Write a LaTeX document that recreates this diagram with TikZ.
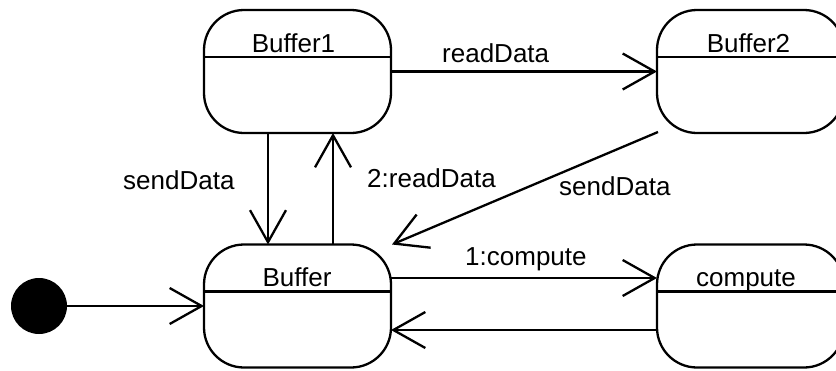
\documentclass[tikz,border=0pt]{standalone}
\usepackage{fontspec}
\setmainfont{Liberation Sans}
\usetikzlibrary{arrows.meta}
\begin{document}
\begin{tikzpicture}[x=1pt,y=-1pt,
  every node/.style={font=\fontsize{26}{30}\selectfont},
  state/.style={draw,line width=2.3pt,rounded corners=40pt,minimum width=187pt,minimum height=123pt,inner sep=0pt,outer sep=0pt},
  slabel/.style={anchor=base,inner sep=0pt},
  elabel/.style={anchor=base west,inner sep=0pt},
  trans/.style={line width=2.3pt,-{Straight Barb[length=32pt,width=36pt]}},
  divider/.style={line width=2.3pt}]
\useasboundingbox (0,0) rectangle (836,370);
\clip (0,0) rectangle (836,370);
% states
\node[state] (Buffer1) at (297.5,71.5) {};
\node[state] (Buffer2) at (750.5,71.5) {};
\node[state] (Buffer) at (297.5,306) {};
\node[state] (compute) at (750.5,306) {};
\foreach \s in {Buffer1,Buffer2,Buffer,compute}{
  \draw[divider] ([yshift=-47pt]\s.north west) -- ([yshift=-47pt]\s.north east);
}
\node[slabel] (t1) at (293.5,52) {Buffer1};
\node[slabel] (t2) at (748.5,52) {Buffer2};
\node[slabel] (t3) at (297,286) {Buffer};
\node[slabel] (t4) at (746,286) {compute};
% initial state
\node[circle,fill=black,minimum size=56pt,inner sep=0pt] (init) at (39,306) {};
% transitions
\draw[trans] (init.east) -- (Buffer.west);
\draw[trans] (Buffer1.east) -- (Buffer2.west);
\draw[trans] ([xshift=-29.5pt]Buffer1.south) -- ([xshift=-29.5pt]Buffer.north);
\draw[trans] ([xshift=35.5pt]Buffer.north) -- ([xshift=35.5pt]Buffer1.south);
\draw[trans] ([shift={(1pt,1pt)}]Buffer2.south west) -- ([xshift=1pt]Buffer.north east);
\draw[trans] ([yshift=28pt]Buffer.east) -- ([yshift=28pt]compute.west);
\draw[trans] ([yshift=-24pt]compute.west) -- ([yshift=-24pt]Buffer.east);
% labels
\node[elabel] (l1) at (442,62) {readData};
\node[elabel] (l2) at (123,189) {sendData};
\node[elabel] (l3) at (367,187) {2:readData};
\node[elabel] (l4) at (559,195) {sendData};
\node[elabel] (l5) at (465,265) {1:compute};
\end{tikzpicture}
\end{document}
